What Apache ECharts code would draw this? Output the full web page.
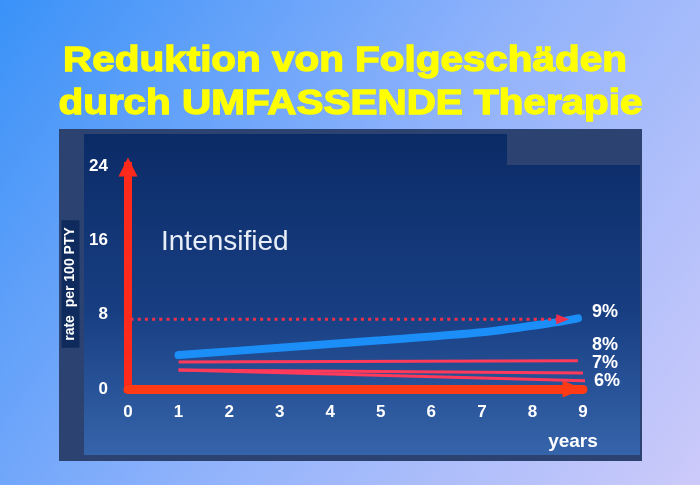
<!DOCTYPE html>
<html>
<head>
<meta charset="utf-8">
<script src="https://cdn.jsdelivr.net/npm/echarts@6/dist/echarts.min.js"></script>
<style>html,body{margin:0;padding:0;background:#6aa6f8;}#c{width:700px;height:485px;}</style>
</head>
<body>
<div id="c"></div>
<script>
// ---- data ----
const titleLines = ['Reduktion von Folgeschäden', 'durch UMFASSENDE Therapie'];
const seriesLabel = 'Intensified';
const yAxisName = 'rate  per 100 PTY';
const xAxisName = 'years';
const pctLabels = ['9%', '8%', '7%', '6%'];

const dottedX = [0.05, 8.6];
const dottedY = [7.5, 7.5];

const blueX = [1, 3, 5, 7, 8.5, 8.9];
const blueY = [3.65, 4.45, 5.25, 6.1, 7.2, 7.6];

const redAX = [1, 8.9];
const redAY = [2.9, 3.05];
const redBX = [1, 9.0];
const redBY = [2.05, 1.72];
const redCX = [1, 9.2];
const redCY = [2.05, 0.86];

const pair = (xs, ys) => xs.map((x, i) => [x, ys[i]]);

const FONT = '"Liberation Sans", Arial, sans-serif';
const chart = echarts.init(document.getElementById('c'), null, {renderer: 'canvas'});

const dottedData = pair(dottedX, dottedY).map((p, i, arr) => i === arr.length - 1
  ? {value: p, symbol: 'triangle', symbolSize: [10, 13], symbolRotate: -90}
  : {value: p, symbol: 'none'});

const titleStyle = (t) => ({text: t, font: 'bold 35px ' + FONT, fill: '#ffff00', stroke: '#ffff00', lineWidth: 1.3,
  align: 'center', verticalAlign: 'middle'});

chart.setOption({
  animation: false,
  graphic: [
    {type: 'rect', z: -30, silent: true, shape: {x: 0, y: 0, width: 700, height: 485},
     style: {fill: new echarts.graphic.LinearGradient(0, 0, 1, 1, [
       {offset: 0, color: '#3a92f8'}, {offset: 0.5, color: '#8fb2fb'}, {offset: 1, color: '#cccafa'}])}},
    {type: 'rect', z: -29, silent: true, shape: {x: 59, y: 129, width: 583, height: 332}, style: {fill: '#2c4270'}},
    {type: 'rect', z: -28, silent: true, shape: {x: 84, y: 134, width: 556, height: 321},
     style: {fill: new echarts.graphic.LinearGradient(0, 0, 0, 1, [
       {offset: 0, color: '#0b2b66'}, {offset: 0.55, color: '#183e82'}, {offset: 1, color: '#3664aa'}])}},
    {type: 'rect', z: -27, silent: true, shape: {x: 507, y: 129, width: 135, height: 36}, style: {fill: '#2c4270'}},
    {type: 'text', z: 10, x: 345, y: 61, scaleX: 1.155, style: titleStyle(titleLines[0])},
    {type: 'text', z: 10, x: 350.5, y: 104, scaleX: 1.155, style: titleStyle(titleLines[1])},
    {type: 'text', z: 10, x: 161, y: 242,
     style: {text: seriesLabel, font: '28px ' + FONT, fill: '#e8eef8', align: 'left', verticalAlign: 'middle'}},
    {type: 'text', z: 10, x: 70.5, y: 284, rotation: Math.PI / 2,
     style: {text: yAxisName, font: 'bold 14px ' + FONT, fill: '#ffffff', align: 'center', verticalAlign: 'middle',
       backgroundColor: '#0f2a5c', padding: [2, 7, 2, 7]}},
    {type: 'text', z: 10, x: 605, y: 312,
     style: {text: pctLabels[0], font: 'bold 18px ' + FONT, fill: '#ffffff', align: 'center', verticalAlign: 'middle'}},
    {type: 'text', z: 10, x: 605, y: 345,
     style: {text: pctLabels[1], font: 'bold 18px ' + FONT, fill: '#ffffff', align: 'center', verticalAlign: 'middle'}},
    {type: 'text', z: 10, x: 605, y: 363,
     style: {text: pctLabels[2], font: 'bold 18px ' + FONT, fill: '#ffffff', align: 'center', verticalAlign: 'middle'}},
    {type: 'text', z: 10, x: 607, y: 381,
     style: {text: pctLabels[3], font: 'bold 18px ' + FONT, fill: '#ffffff', align: 'center', verticalAlign: 'middle'}},
    {type: 'text', z: 10, x: 573, y: 442,
     style: {text: xAxisName, font: 'bold 19px ' + FONT, fill: '#ffffff', align: 'center', verticalAlign: 'middle'}}
  ],
  grid: {left: 128, right: 117, top: 166, bottom: 96, containLabel: false},
  xAxis: {
    type: 'value', min: 0, max: 9, interval: 1,
    splitLine: {show: false}, axisTick: {show: false},
    axisLine: {show: true, symbol: ['none', 'triangle'], symbolSize: [17, 21], symbolOffset: [0, -10],
      lineStyle: {color: '#ff3a14', width: 9}},
    axisLabel: {color: '#ffffff', fontWeight: 'bold', fontSize: 17, fontFamily: FONT, margin: 15}
  },
  yAxis: {
    type: 'value', min: 0, max: 24, interval: 8,
    splitLine: {show: false}, axisTick: {show: false},
    axisLine: {show: true, symbol: ['none', 'triangle'], symbolSize: [19, 19], symbolOffset: [0, -1],
      lineStyle: {color: '#ff2a1c', width: 8, cap: 'square'}},
    axisLabel: {color: '#ffffff', fontWeight: 'bold', fontSize: 17, fontFamily: FONT, margin: 20}
  },
  series: [
    {type: 'line', data: pair(redAX, redAY), symbol: 'none', lineStyle: {color: '#ff3a5a', width: 3}, z: 3},
    {type: 'line', data: pair(redBX, redBY), symbol: 'none', lineStyle: {color: '#ff3a5a', width: 3}, z: 3},
    {type: 'line', data: pair(redCX, redCY), symbol: 'none', lineStyle: {color: '#ff3a5a', width: 3}, z: 3},
    {type: 'line', data: pair(blueX, blueY), symbol: 'none', smooth: 0.3,
     lineStyle: {color: '#1b8ef8', width: 8, cap: 'round'}, z: 4},
    {type: 'line', data: dottedData, itemStyle: {color: '#f0304a'},
     lineStyle: {color: '#f0304a', width: 3, type: [3, 4.2]}, z: 5}
  ]
});
</script>
</body>
</html>
